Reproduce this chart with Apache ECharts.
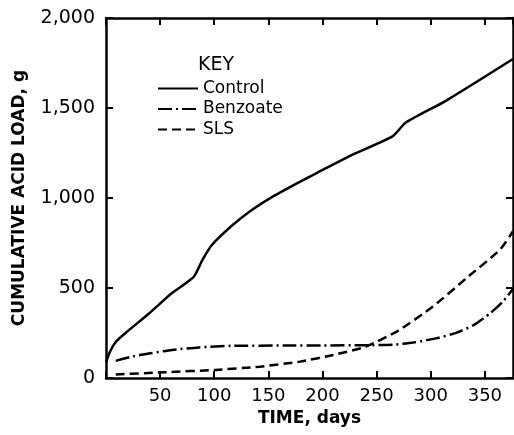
<!DOCTYPE html>
<html lang="en">

<head>
    <meta charset="UTF-8">
    <title>Cumulative acid load</title>
    <script src="https://cdn.jsdelivr.net/npm/echarts@6.0.0/dist/echarts.min.js"></script>
    <style>
        body { margin: 0; background: #fff; }
    </style>
</head>

<body>
    <div id="chart" style="width: 514px; height: 435px;"></div>
    <script>
        // [day, grams]
        var control = [[0, 88], [4, 150], [9, 200], [18, 250], [40, 360], [61, 472], [81, 562], [89, 655],
            [98, 740], [117, 850], [135, 935], [154, 1008], [179, 1090], [195, 1140], [225, 1233],
            [265, 1344], [277, 1419], [314, 1540], [376, 1772]];
        var benzoate = [[9, 95], [25, 120], [41, 137], [61, 156], [86, 170], [117, 179], [166, 180],
            [200, 181], [240, 182], [265, 185], [284, 197], [305, 220], [324, 252], [340, 295],
            [355, 360], [366, 420], [376, 495]];
        var sls = [[9, 20], [55, 32], [101, 45], [142, 63], [179, 91], [210, 128], [240, 174],
            [271, 267], [302, 397], [333, 555], [364, 713], [376, 815]];
        var yTickLabels = { 0: '0', 500: '500', 1000: '1,000', 1500: '1,500', 2000: '2,000' };

        var font = 'DejaVu Sans';
        var chart = echarts.init(document.getElementById('chart'));

        function lineSeries(name, data, type) {
            return {
                name: name,
                type: 'line',
                data: data,
                smooth: 0.2,
                symbol: 'none',
                color: '#000',
                lineStyle: { color: '#000', width: 2.5, type: type }
            };
        }

        var frame = { show: true, onZero: false, lineStyle: { color: '#000', width: 2.5 } };
        var tick = { show: true, inside: true, length: 7, lineStyle: { color: '#000', width: 2 } };

        chart.setOption({
            animation: false,
            backgroundColor: '#fff',
            title: {
                text: 'KEY',
                left: 193,
                top: 51,
                textStyle: { fontFamily: font, fontSize: 19, fontWeight: 'normal', color: '#000' }
            },
            legend: {
                data: ['Control', 'Benzoate', 'SLS'],
                orient: 'vertical',
                left: 152,
                top: 75,
                itemWidth: 40,
                itemHeight: 14,
                itemGap: 3.5,
                itemStyle: { opacity: 0 },
                textStyle: { fontFamily: font, fontSize: 17, color: '#000' }
            },
            grid: { left: 106, right: 1, top: 18, bottom: 57 },
            xAxis: [{
                type: 'value',
                min: 0,
                max: 376,
                interval: 50,
                name: 'TIME, days',
                nameLocation: 'middle',
                nameGap: 28,
                nameTextStyle: { fontFamily: font, fontSize: 17, fontWeight: 'bold', color: '#000' },
                axisLine: frame,
                axisTick: tick,
                splitLine: { show: false },
                axisLabel: {
                    showMaxLabel: false,
                    fontFamily: font, fontSize: 18, color: '#000', margin: 9,
                    formatter: function (v) { return v === 0 ? '' : String(v); }
                }
            }, {
                type: 'value',
                position: 'top',
                min: 0,
                max: 376,
                interval: 50,
                axisLine: frame,
                axisTick: tick,
                axisLabel: { show: false },
                splitLine: { show: false }
            }],
            yAxis: [{
                type: 'value',
                min: 0,
                max: 2000,
                interval: 500,
                name: 'CUMULATIVE ACID LOAD, g',
                nameLocation: 'middle',
                nameGap: 78,
                nameTextStyle: { fontFamily: font, fontSize: 17, fontWeight: 'bold', color: '#000' },
                axisLine: frame,
                axisTick: tick,
                splitLine: { show: false },
                axisLabel: {
                    fontFamily: font, fontSize: 19, color: '#000', margin: 11,
                    formatter: function (v) { return yTickLabels[v]; }
                }
            }, {
                type: 'value',
                position: 'right',
                min: 0,
                max: 2000,
                interval: 500,
                axisLine: frame,
                axisTick: tick,
                axisLabel: { show: false },
                splitLine: { show: false }
            }],
            series: [
                lineSeries('Control', control, 'solid'),
                lineSeries('Benzoate', benzoate, [14, 4, 2, 4]),
                lineSeries('SLS', sls, [9, 5])
            ]
        });

        window.addEventListener('resize', () => {
            chart.resize();
        });
    </script>
</body>

</html>
